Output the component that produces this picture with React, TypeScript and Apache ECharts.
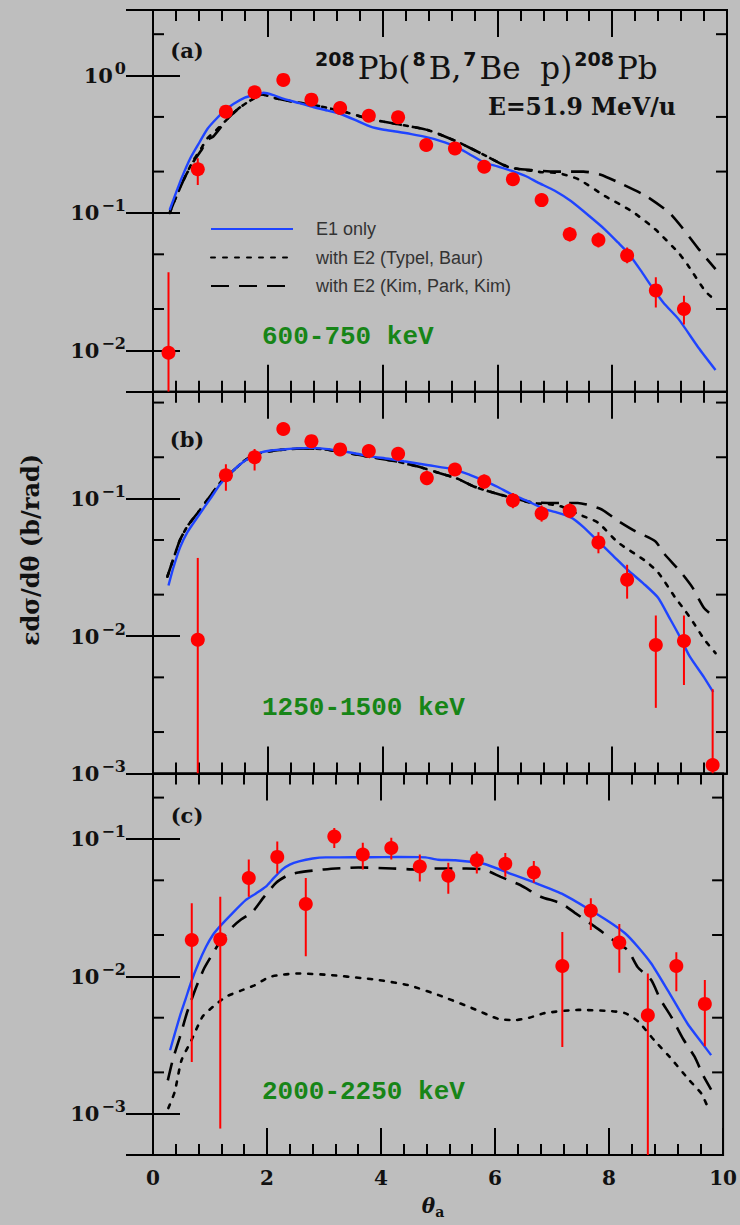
import React, { useEffect, useRef } from "react";
import * as echarts from "echarts";

// ---------- data ----------
const E1 = "E1 only";
const TB = "with E2 (Typel, Baur)";
const KPK = "with E2 (Kim, Park, Kim)";

const panelLetters = ["(a)", "(b)", "(c)"];
const energyLabels = ["600-750 keV", "1250-1500 keV", "2000-2250 keV"];
const yRangeA = [0.005, 3];
const yRangeB = [0.001, 0.6];
const yRangeC = [0.0005, 0.3];
const minorTicksA = [0.02, 0.05, 0.2, 0.5, 2];
const minorTicksB = [0.002, 0.005, 0.02, 0.05, 0.2, 0.5];
const minorTicksC = [0.002, 0.005, 0.02, 0.05, 0.2];

// measurements: theta, value, lower, upper
const aX = [0.27, 0.78, 1.27, 1.77, 2.27, 2.76, 3.26, 3.76, 4.27, 4.76, 5.26, 5.77, 6.27, 6.77, 7.26, 7.76, 8.26, 8.76, 9.25];
const aY = [0.0096, 0.208, 0.546, 0.756, 0.93, 0.668, 0.58, 0.51, 0.497, 0.312, 0.295, 0.217, 0.176, 0.124, 0.07, 0.0635, 0.049, 0.0273, 0.02];
const aLo = [0.005, 0.16, 0.5, 0.7, 0.87, 0.62, 0.54, 0.47, 0.46, 0.29, 0.27, 0.2, 0.162, 0.113, 0.062, 0.056, 0.043, 0.0205, 0.0154];
const aHi = [0.037, 0.25, 0.6, 0.82, 1.0, 0.72, 0.63, 0.55, 0.54, 0.34, 0.32, 0.235, 0.19, 0.136, 0.079, 0.072, 0.056, 0.034, 0.025];

const bX = [0.78, 1.27, 1.77, 2.27, 2.76, 3.26, 3.76, 4.27, 4.77, 5.26, 5.77, 6.27, 6.77, 7.26, 7.76, 8.26, 8.76, 9.25, 9.75];
const bY = [0.0094, 0.148, 0.2, 0.321, 0.262, 0.228, 0.222, 0.212, 0.141, 0.163, 0.133, 0.097, 0.078, 0.0815, 0.048, 0.0257, 0.0086, 0.0092, 0.00115];
const bLo = [0.001, 0.114, 0.16, 0.29, 0.235, 0.205, 0.2, 0.19, 0.125, 0.147, 0.118, 0.085, 0.068, 0.072, 0.04, 0.0187, 0.003, 0.0044, 0.001];
const bHi = [0.037, 0.178, 0.23, 0.355, 0.29, 0.25, 0.245, 0.235, 0.16, 0.18, 0.15, 0.11, 0.089, 0.092, 0.057, 0.033, 0.0141, 0.0141, 0.0041];

const cX = [0.68, 1.18, 1.68, 2.18, 2.68, 3.18, 3.68, 4.18, 4.68, 5.18, 5.68, 6.18, 6.68, 7.18, 7.68, 8.18, 8.68, 9.18, 9.68];
const cY = [0.0184, 0.0186, 0.052, 0.074, 0.0336, 0.104, 0.077, 0.086, 0.063, 0.054, 0.07, 0.066, 0.057, 0.0119, 0.03, 0.0176, 0.0052, 0.0119, 0.0063];
const cLo = [0.00238, 0.00078, 0.038, 0.056, 0.014, 0.086, 0.06, 0.071, 0.049, 0.04, 0.056, 0.053, 0.048, 0.00306, 0.0217, 0.0106, 0.0005, 0.0078, 0.0031];
const cHi = [0.034, 0.038, 0.071, 0.096, 0.052, 0.12, 0.094, 0.102, 0.077, 0.067, 0.081, 0.079, 0.069, 0.021, 0.037, 0.024, 0.0105, 0.015, 0.0094];

// theory curves [theta, value]
const aE1 = [[0.29, 0.105], [0.4, 0.14], [0.5, 0.18], [0.65, 0.25], [0.81, 0.327], [0.95, 0.41], [1.1, 0.483], [1.25, 0.555], [1.4, 0.62], [1.6, 0.69], [1.75, 0.72], [1.93, 0.75], [2.1, 0.72], [2.28, 0.676], [2.55, 0.63], [2.8, 0.588], [3.05, 0.555], [3.27, 0.525], [3.55, 0.47], [3.79, 0.425], [4.0, 0.405], [4.26, 0.39], [4.5, 0.375], [4.78, 0.355], [5.0, 0.335], [5.25, 0.308], [5.5, 0.27], [5.77, 0.233], [6.0, 0.218], [6.24, 0.203], [6.5, 0.185], [6.7, 0.167], [7.0, 0.145], [7.28, 0.122], [7.6, 0.095], [7.87, 0.076], [8.1, 0.061], [8.28, 0.051], [8.5, 0.038], [8.69, 0.029], [8.9, 0.022], [9.16, 0.0168], [9.5, 0.0105], [9.8, 0.0072]];
const aTB = [[0.29, 0.1], [0.4, 0.13], [0.55, 0.18], [0.7, 0.24], [0.85, 0.3], [0.95, 0.35], [1.1, 0.4], [1.29, 0.48], [1.5, 0.58], [1.7, 0.66], [1.9, 0.73], [2.1, 0.69], [2.4, 0.65], [2.8, 0.61], [3.3, 0.55], [3.8, 0.48], [4.3, 0.44], [4.8, 0.4], [5.3, 0.33], [5.8, 0.26], [6.2, 0.215], [6.5, 0.205], [6.77, 0.198], [7.06, 0.195], [7.41, 0.176], [7.87, 0.133], [8.34, 0.103], [8.75, 0.076], [9.16, 0.051], [9.33, 0.041], [9.62, 0.027], [9.8, 0.023]];
const aKPK = [[0.29, 0.1], [0.4, 0.13], [0.55, 0.18], [0.7, 0.235], [0.85, 0.29], [0.95, 0.34], [1.05, 0.36], [1.29, 0.48], [1.5, 0.58], [1.7, 0.66], [1.9, 0.73], [2.1, 0.69], [2.4, 0.65], [2.8, 0.61], [3.3, 0.55], [3.8, 0.48], [4.3, 0.44], [4.8, 0.4], [5.3, 0.33], [5.8, 0.26], [6.2, 0.215], [6.6, 0.205], [7.0, 0.2], [7.5, 0.2], [7.8, 0.19], [8.2, 0.16], [8.6, 0.132], [9.0, 0.1], [9.2, 0.08], [9.5, 0.055], [9.8, 0.039]];

const bE1 = [[0.27, 0.0233], [0.35, 0.031], [0.47, 0.044], [0.6, 0.057], [0.81, 0.077], [1.0, 0.1], [1.17, 0.127], [1.35, 0.153], [1.52, 0.178], [1.7, 0.2], [1.87, 0.216], [2.05, 0.224], [2.27, 0.228], [2.5, 0.232], [2.74, 0.234], [3.0, 0.23], [3.27, 0.222], [3.55, 0.212], [3.79, 0.203], [4.1, 0.195], [4.37, 0.187], [4.8, 0.175], [5.25, 0.163], [5.5, 0.15], [5.8, 0.133], [6.0, 0.122], [6.24, 0.108], [6.5, 0.097], [6.82, 0.084], [7.0, 0.08], [7.28, 0.073], [7.5, 0.062], [7.75, 0.049], [8.0, 0.039], [8.28, 0.03], [8.55, 0.024], [8.8, 0.019], [9.0, 0.0135], [9.15, 0.0104], [9.35, 0.0071], [9.6, 0.005], [9.76, 0.0039]];
const bTB = [[0.25, 0.027], [0.35, 0.036], [0.47, 0.05], [0.6, 0.063], [0.81, 0.082], [1.0, 0.105], [1.2, 0.135], [1.4, 0.16], [1.6, 0.19], [1.8, 0.21], [2.0, 0.22], [2.3, 0.228], [2.7, 0.232], [3.0, 0.228], [3.4, 0.215], [3.8, 0.2], [4.2, 0.188], [4.6, 0.172], [5.0, 0.153], [5.3, 0.14], [5.6, 0.122], [5.95, 0.11], [6.3, 0.1], [6.6, 0.093], [6.9, 0.091], [7.1, 0.088], [7.41, 0.077], [7.75, 0.067], [8.1, 0.048], [8.57, 0.0354], [8.8, 0.029], [9.1, 0.019], [9.27, 0.0153], [9.41, 0.0126], [9.6, 0.0095], [9.8, 0.0075]];
const bKPK = [[0.25, 0.027], [0.35, 0.036], [0.47, 0.05], [0.6, 0.063], [0.81, 0.082], [1.0, 0.105], [1.2, 0.135], [1.4, 0.16], [1.6, 0.19], [1.8, 0.21], [2.0, 0.22], [2.3, 0.228], [2.7, 0.232], [3.0, 0.228], [3.4, 0.215], [3.8, 0.2], [4.2, 0.188], [4.6, 0.172], [5.0, 0.153], [5.3, 0.14], [5.6, 0.122], [5.95, 0.11], [6.3, 0.1], [6.6, 0.094], [7.0, 0.093], [7.4, 0.093], [7.8, 0.084], [8.1, 0.069], [8.4, 0.058], [8.75, 0.049], [8.9, 0.04], [9.2, 0.029], [9.4, 0.0225], [9.6, 0.016], [9.8, 0.0135]];

const cE1 = [[0.3, 0.0029], [0.38, 0.0038], [0.47, 0.0051], [0.57, 0.0068], [0.67, 0.0091], [0.8, 0.0125], [0.93, 0.0164], [1.05, 0.02], [1.17, 0.023], [1.4, 0.029], [1.63, 0.036], [1.8, 0.04], [1.98, 0.045], [2.1, 0.051], [2.27, 0.06], [2.4, 0.065], [2.56, 0.0686], [2.8, 0.072], [3.03, 0.0734], [3.5, 0.0735], [3.77, 0.0735], [4.3, 0.074], [4.78, 0.0735], [5.0, 0.0705], [5.3, 0.07], [5.8, 0.066], [6.24, 0.0565], [6.7, 0.048], [7.17, 0.04], [7.58, 0.032], [8.0, 0.025], [8.28, 0.0206], [8.5, 0.0165], [8.74, 0.0124], [9.03, 0.0079], [9.38, 0.0045], [9.6, 0.0034], [9.79, 0.00267]];
const cTB = [[0.27, 0.0011], [0.38, 0.00144], [0.5, 0.00245], [0.67, 0.0034], [0.87, 0.0051], [1.05, 0.006], [1.28, 0.0071], [1.55, 0.0079], [1.78, 0.0086], [2.04, 0.0099], [2.3, 0.0103], [2.56, 0.0105], [3.14, 0.0102], [3.67, 0.0097], [3.96, 0.0094], [4.49, 0.0086], [5.01, 0.0073], [5.54, 0.006], [6.06, 0.0049], [6.35, 0.0048], [6.6, 0.005], [6.87, 0.0054], [7.46, 0.0057], [8.0, 0.0056], [8.28, 0.0054], [8.51, 0.0047], [8.8, 0.0034], [9.06, 0.0026], [9.41, 0.00175], [9.62, 0.0014], [9.73, 0.00112]];
const cKPK = [[0.26, 0.00175], [0.35, 0.0025], [0.47, 0.0036], [0.6, 0.0055], [0.76, 0.0084], [0.9, 0.0115], [1.05, 0.0147], [1.2, 0.0185], [1.4, 0.023], [1.55, 0.026], [1.75, 0.0296], [1.95, 0.038], [2.16, 0.048], [2.35, 0.054], [2.55, 0.057], [3.0, 0.06], [3.6, 0.062], [4.2, 0.061], [4.6, 0.06], [5.0, 0.061], [5.5, 0.061], [5.8, 0.06], [6.1, 0.053], [6.45, 0.046], [6.8, 0.038], [7.16, 0.034], [7.4, 0.029], [7.75, 0.023], [8.1, 0.018], [8.33, 0.0155], [8.5, 0.0117], [8.74, 0.0094], [8.9, 0.0068], [9.1, 0.005], [9.3, 0.0035], [9.5, 0.0026], [9.65, 0.0019], [9.79, 0.0015]];

// ---------- styling ----------
const BG = "#bebebe";
const RED = "#ff0000";
const BLUE = "#1f44ff";
const GREEN = "#178517";
const INK = "#111";
const SERIF = "DejaVu Serif";

const GRID_LEFT = 153;
const GRID_WIDTH = 574;
const GRID_H = 381.7;
const gridTops = [10, 391.7, 773.4];

function yLabel(v: number) {
  const e = Math.log10(v);
  const r = Math.round(e);
  if (Math.abs(e - r) > 1e-6) return "";
  return `{b|10}{s|${r < 0 ? "\u2212" + -r : r}}`;
}

function buildOption() {
  const panels = [
    { range: yRangeA, minor: minorTicksA, x: aX, y: aY, lo: aLo, hi: aHi, e1: aE1, tb: aTB, kpk: aKPK },
    { range: yRangeB, minor: minorTicksB, x: bX, y: bY, lo: bLo, hi: bHi, e1: bE1, tb: bTB, kpk: bKPK },
    { range: yRangeC, minor: minorTicksC, x: cX, y: cY, lo: cLo, hi: cHi, e1: cE1, tb: cTB, kpk: cKPK },
  ];
  const grid: any[] = [];
  const xAxis: any[] = [];
  const yAxis: any[] = [];
  const series: any[] = [];
  const tickLine = { color: "#000", width: 2 };

  panels.forEach((p, i) => {
    grid.push({
      left: GRID_LEFT, width: GRID_WIDTH, top: gridTops[i], height: GRID_H,
      show: true, borderColor: "#000", borderWidth: 2, backgroundColor: "transparent",
    });
    ["bottom", "top"].forEach((pos) => {
      xAxis.push({
        type: "value", gridIndex: i, position: pos, min: 0, max: 10, interval: 2,
        axisLine: { show: true, lineStyle: tickLine },
        axisTick: { show: true, inside: true, length: 27, lineStyle: tickLine },
        minorTick: { show: true, splitNumber: 5, length: 11, lineStyle: tickLine },
        splitLine: { show: false },
        axisLabel: {
          show: i === 2 && pos === "bottom", margin: 13,
          fontFamily: SERIF, fontWeight: "bold", fontSize: 20, color: INK,
        },
        name: i === 2 && pos === "bottom" ? "{t|\u03b8}{s|a}" : "",
        nameLocation: "middle", nameGap: 38,
        nameTextStyle: {
          padding: [0, 10, 0, 0],
          rich: {
            t: { fontFamily: SERIF, fontStyle: "italic", fontWeight: "bold", fontSize: 20, lineHeight: 26, color: INK },
            s: { fontFamily: SERIF, fontWeight: "bold", fontSize: 14, lineHeight: 14, verticalAlign: "bottom", color: INK },
          },
        },
      });
    });
    ["left", "right"].forEach((pos) => {
      yAxis.push({
        type: "log", gridIndex: i, position: pos, min: p.range[0], max: p.range[1],
        axisLine: { show: true, lineStyle: tickLine },
        axisTick: { show: true, inside: true, length: 27, lineStyle: tickLine },
        splitLine: { show: false },
        axisLabel: {
          show: pos === "left", margin: 27, formatter: yLabel,
          rich: {
            b: { fontFamily: SERIF, fontWeight: "bold", fontSize: 21, lineHeight: 30, color: INK },
            s: { fontFamily: SERIF, fontWeight: "bold", fontSize: 16, lineHeight: 17, verticalAlign: "top", color: INK, padding: [0, 0, 0, 2] },
          },
        },
      });
    });
    const xi = 2 * i;
    const yi = 2 * i;
    // minor y ticks (2 and 5 of each decade) on both sides
    series.push({
      type: "custom", xAxisIndex: xi, yAxisIndex: yi, silent: true, z: 3,
      data: p.minor.map((v) => [0, v]),
      encode: { x: 0, y: 1 },
      renderItem: (params: any, api: any) => {
        const cs = params.coordSys;
        const y = api.coord([0, api.value(1)])[1];
        return {
          type: "group",
          children: [
            { type: "line", shape: { x1: cs.x, y1: y, x2: cs.x + 11, y2: y }, style: { stroke: "#000", lineWidth: 2 } },
            { type: "line", shape: { x1: cs.x + cs.width - 11, y1: y, x2: cs.x + cs.width, y2: y }, style: { stroke: "#000", lineWidth: 2 } },
          ],
        };
      },
    });
    series.push({
      name: TB, type: "line", xAxisIndex: xi, yAxisIndex: yi, data: p.tb, smooth: 0.2,
      symbol: "none", showSymbol: false, z: 4,
      lineStyle: { color: "#000", width: 2.6, type: [4, 8], cap: "round" },
      itemStyle: { color: "#000" },
    });
    series.push({
      name: KPK, type: "line", xAxisIndex: xi, yAxisIndex: yi, data: p.kpk, smooth: 0.2,
      symbol: "none", showSymbol: false, z: 4,
      lineStyle: { color: "#000", width: 2.6, type: [18, 10] },
      itemStyle: { color: "#000" },
    });
    series.push({
      name: E1, type: "line", xAxisIndex: xi, yAxisIndex: yi, data: p.e1, smooth: 0.2,
      symbol: "none", showSymbol: false, z: 5,
      lineStyle: { color: BLUE, width: 2.4, type: "solid" },
      itemStyle: { color: BLUE },
    });
    // error bars
    series.push({
      type: "custom", xAxisIndex: xi, yAxisIndex: yi, silent: true, z: 6, clip: true,
      data: p.x.map((x, k) => [x, p.lo[k], p.hi[k]]),
      encode: { x: 0, y: [1, 2] },
      renderItem: (params: any, api: any) => {
        const a = api.coord([api.value(0), api.value(1)]);
        const b = api.coord([api.value(0), api.value(2)]);
        return {
          type: "line",
          shape: { x1: a[0], y1: a[1], x2: b[0], y2: b[1] },
          style: { stroke: RED, lineWidth: 2 },
        };
      },
    });
    series.push({
      type: "scatter", xAxisIndex: xi, yAxisIndex: yi, silent: true, z: 7,
      data: p.x.map((x, k) => [x, p.y[k]]),
      symbol: "circle", symbolSize: 14,
      itemStyle: { color: RED, opacity: 1 },
    });
  });

  const graphic: any[] = [];
  const letterY = [50, 439, 815];
  const energyY = [337, 708, 1092];
  panelLetters.forEach((t, i) => {
    graphic.push({
      type: "text", x: 187, y: letterY[i], z: 20,
      style: { text: t, fontFamily: SERIF, fontWeight: "bold", fontSize: 21, fill: INK, align: "center", verticalAlign: "middle" },
    });
    graphic.push({
      type: "text", x: 262, y: energyY[i], z: 20,
      style: { text: energyLabels[i], fontFamily: "Liberation Mono", fontWeight: "bold", fontSize: 26, fill: GREEN, align: "left", verticalAlign: "middle" },
    });
  });
  graphic.push({
    type: "text", x: 315, y: 68, z: 20,
    style: {
      text: "{s|208}{m|Pb(}{s|8}{m|B,}{s|7}{m|Be  p)}{s|208}{m|Pb}",
      align: "left", verticalAlign: "middle",
      rich: {
        m: { fontFamily: SERIF, fontSize: 31, lineHeight: 38, fill: INK, padding: [0, 2, 0, 0] },
        s: { fontFamily: "DejaVu Sans", fontWeight: "bold", fontSize: 19, lineHeight: 22, verticalAlign: "top", fill: INK, padding: [0, 3, 0, 0] },
      },
    },
  });
  graphic.push({
    type: "text", x: 488, y: 107, z: 20,
    style: { text: "E=51.9 MeV/u", fontFamily: SERIF, fontWeight: "bold", fontSize: 23.5, fill: INK, align: "left", verticalAlign: "middle" },
  });
  graphic.push({
    type: "text", x: 30, y: 550, rotation: Math.PI / 2, z: 20,
    style: { text: "\u03b5d\u03c3/d\u03b8 (b/rad)", fontFamily: SERIF, fontWeight: "bold", fontSize: 24, fill: INK, align: "center", verticalAlign: "middle" },
  });

  return {
    animation: false,
    backgroundColor: BG,
    grid, xAxis, yAxis, series, graphic,
    legend: {
      data: [E1, TB, KPK],
      orient: "vertical", left: 210, top: 219, padding: 0,
      itemWidth: 82, itemHeight: 14, itemGap: 8.5,
      selectedMode: false,
      itemStyle: { opacity: 0 },
      textStyle: { fontFamily: "Liberation Sans", fontSize: 18, color: "#333", lineHeight: 20, padding: [0, 0, 0, 18] },
    },
  };
}

export default function App() {
  const ref = useRef<HTMLDivElement>(null);
  useEffect(() => {
    if (!ref.current) return;
    const chart = echarts.init(ref.current, undefined, { renderer: "svg" });
    chart.setOption(buildOption() as any);
    return () => chart.dispose();
  }, []);
  return <div ref={ref} style={{ position: "absolute", left: 0, top: 0, width: 740, height: 1225 }} />;
}
